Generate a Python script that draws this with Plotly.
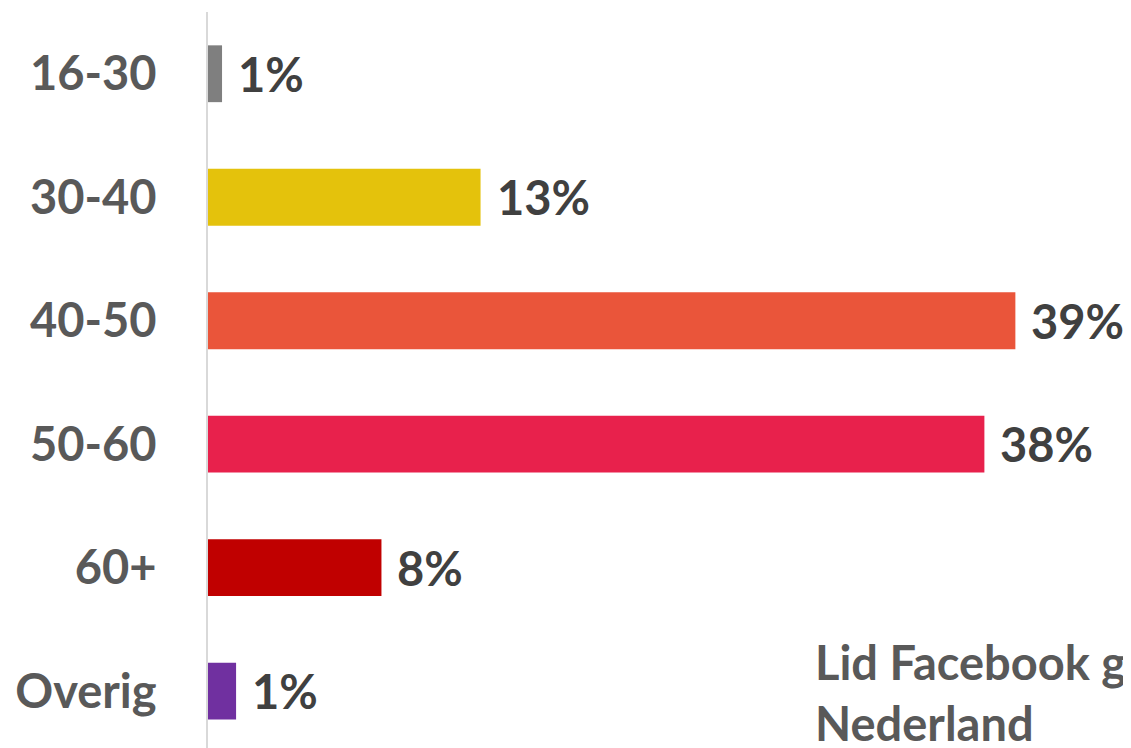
import plotly.graph_objects as go

categories = ["16-30", "30-40", "40-50", "50-60", "60+", "Overig"]
values = [0.68, 13.2, 39.1, 37.6, 8.4, 1.36]
labels = ["1%", "13%", "39%", "38%", "8%", "1%"]
colors = ["#7F7F7F", "#E4C20C", "#EA553A", "#E8214C", "#C00000", "#7030A0"]
note_text = "Lid Facebook groep<br>Nederland"

FONT = "Lato"

fig = go.Figure()
fig.add_trace(go.Bar(
    y=categories,
    x=values,
    orientation="h",
    marker=dict(color=colors, line=dict(width=0)),
    hoverinfo="skip",
))

for c, v, t in zip(categories, values, labels):
    fig.add_annotation(
        x=v, y=c, xref="x", yref="y", text=f"<b>{t}</b>",
        showarrow=False, xanchor="left", yanchor="middle", xshift=14,
        font=dict(family=FONT, size=47, color="#404040"),
    )

fig.add_annotation(
    x=0.655, y=0.157, xref="paper", yref="paper", text=f"<b>{note_text}</b>",
    showarrow=False, xanchor="left", yanchor="top", align="left",
    font=dict(family=FONT, size=47, color="#595959"),
)

# page body has an 8px default margin; size the figure to fit the window
fig.update_layout(
    width=1123, height=740,
    margin=dict(l=200, r=0, t=4, b=0),
    paper_bgcolor="white", plot_bgcolor="white",
    bargap=0.54,
    showlegend=False,
    xaxis=dict(range=[0, 44.7], visible=False, showgrid=False, zeroline=False),
    yaxis=dict(
        categoryorder="array", categoryarray=categories,
        range=[5.46, -0.5],
        showline=True, linecolor="#D9D9D9", linewidth=2,
        ticks="", showgrid=False, zeroline=False,
        ticklabelstandoff=40,
        tickfont=dict(family=FONT, size=47, color="#595959", weight="bold"),
    ),
)

fig.write_html("out.html")
